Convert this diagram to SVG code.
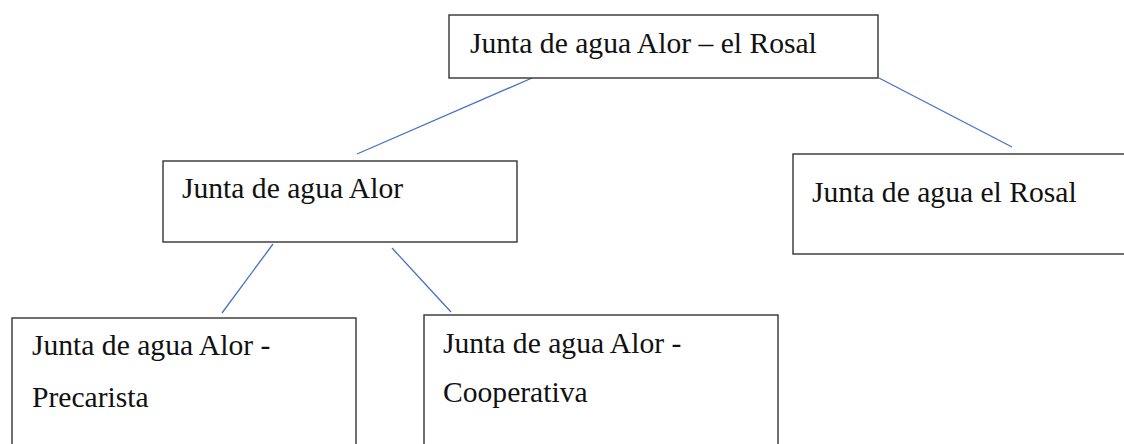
<svg xmlns="http://www.w3.org/2000/svg" width="1124" height="444" viewBox="0 0 1124 444">
<style>
.box{fill:#fff;stroke:#333;stroke-width:1.4}
.t{font-family:"Liberation Serif","Times New Roman",serif;font-size:29.6px;fill:#111}
.c{stroke:#4472C4;stroke-width:1.3;fill:none}
</style>
<rect width="1124" height="444" fill="#fff"/>
<g id="connectors">
<line class="c" x1="532" y1="78" x2="357" y2="154"/>
<line class="c" x1="879" y1="78" x2="1012" y2="147"/>
<line class="c" x1="273" y1="244" x2="222" y2="313"/>
<line class="c" x1="392" y1="248" x2="451" y2="312"/>
</g>
<g id="root">
<rect class="box" x="449" y="15" width="429" height="63"/>
<text class="t" x="470" y="53">Junta de agua Alor – el Rosal</text>
</g>
<g id="alor">
<rect class="box" x="163" y="161" width="354" height="81"/>
<text class="t" x="182" y="198">Junta de agua Alor</text>
</g>
<g id="rosal">
<rect class="box" x="793" y="154" width="340" height="100"/>
<text class="t" x="812" y="202">Junta de agua el Rosal</text>
</g>
<g id="precarista">
<rect class="box" x="12" y="318" width="344" height="140"/>
<text class="t" x="32" y="355">Junta de agua Alor -</text>
<text class="t" x="32" y="407">Precarista</text>
</g>
<g id="cooperativa">
<rect class="box" x="424" y="315" width="354" height="140"/>
<text class="t" x="443" y="353">Junta de agua Alor -</text>
<text class="t" x="443" y="402">Cooperativa</text>
</g>
</svg>
